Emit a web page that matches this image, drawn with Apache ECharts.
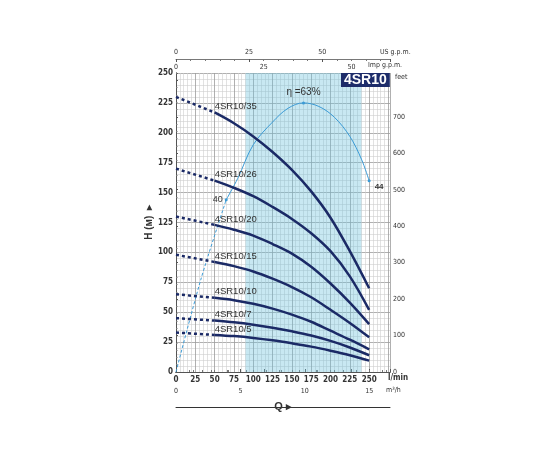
<!DOCTYPE html>
<html>
<head>
<meta charset="utf-8">
<script src="https://cdn.jsdelivr.net/npm/echarts@6/dist/echarts.min.js"></script>
<style>
  html, body { margin: 0; padding: 0; background: #fff; }
  #chart { width: 550px; height: 450px; }
</style>
</head>
<body>
<div id="chart"></div>
<script>
// pump curves 4SR10, H (m) against Q (l/min)
const flowLpm = [0, 50, 75, 100, 125, 150, 175, 200, 225, 250]
const pumpNames = ['4SR10/35', '4SR10/26', '4SR10/20', '4SR10/15', '4SR10/10', '4SR10/7', '4SR10/5']
const head35 = [230, 217, 208, 197, 184, 169, 151, 129, 101, 70]
const head26 = [170, 160, 154, 147, 138, 128, 116, 101, 80, 52]
const head20 = [130, 123, 119, 114, 107, 99, 88, 74, 58, 40]
const head15 = [98, 92, 88.5, 84, 78, 71, 62.5, 52, 41, 29]
const head10 = [65, 62, 60, 57, 53, 48, 42, 34.5, 27, 19]
const head7 = [45, 43, 41.5, 39.5, 37, 34, 30.5, 26, 20.5, 14]
const head5 = [33, 31, 30, 28.5, 26.5, 24, 21.2, 17.8, 14, 9.5]
const heads = [head35, head26, head20, head15, head10, head7, head5]

// efficiency curve (drawn on the H scale)
const effFlow = [0, 32, 65, 80, 100, 125, 145, 165, 185, 205, 225, 240, 250]
const effHead = [0, 77, 144, 162, 190, 209, 220.5, 225, 222, 213, 197, 178, 160]
const effMarkIdx = [2, 7, 12]
const effMarkText = ['40', 'η =63%', '44']

// recommended range (shaded)
const shadedRange = [90, 240]

// tick labels
const hTicks = [0, 25, 50, 75, 100, 125, 150, 175, 200, 225, 250]
const qTicks = [0, 25, 50, 75, 100, 125, 150, 175, 200, 225, 250]
const feetTicks = [0, 100, 200, 300, 400, 500, 600, 700]

const qMax = 277
const navy = '#1b2a66'
const effBlue = '#3b9bd6'
const narrow = '"Liberation Sans Narrow", "DejaVu Sans Condensed", sans-serif'
const tickFont = { fontSize: 8, fontWeight: 'bold', color: '#333', fontFamily: narrow }

let series = []
heads.forEach(function (h, i) {
  //dotted start 0 - 50
  series.push({
    type: 'line',
    data: [[flowLpm[0], h[0]], [flowLpm[1], h[1]]],
    symbol: 'none',
    lineStyle: { color: navy, width: 2.5, type: [3, 3] },
    z: 3
  })
  let solid = []
  for (let k = 1; k < flowLpm.length; k++) {
    if (k === 1) {
      solid.push({
        value: [flowLpm[k], h[k]],
        label: {
          show: true, formatter: pumpNames[i], position: 'top', align: 'left', distance: 1,
          color: '#333', fontSize: 9.5, fontFamily: 'Liberation Sans, sans-serif'
        }
      })
    } else {
      solid.push([flowLpm[k], h[k]])
    }
  }
  series.push({
    type: 'line',
    data: solid,
    smooth: 0.35,
    symbol: 'circle',
    symbolSize: 0,
    lineStyle: { color: navy, width: 2.5 },
    z: 3
  })
})

// efficiency: dashed to the first mark, then solid
let effDashed = []
let effSolid = []
effFlow.forEach(function (q, k) {
  if (k <= effMarkIdx[0]) effDashed.push([q, effHead[k]])
  if (k >= effMarkIdx[0]) {
    let m = effMarkIdx.indexOf(k)
    if (m >= 0) {
      let lab = { show: true, formatter: effMarkText[m], color: '#333', fontSize: 9, fontFamily: 'Liberation Sans, sans-serif' }
      if (m === 0) { lab.position = 'left'; lab.distance = 2 }
      if (m === 1) { lab.position = 'top'; lab.distance = 4; lab.fontSize = 10 }
      if (m === 2) { lab.position = 'right'; lab.offset = [-1, 6]; lab.fontWeight = 'bold'; lab.fontSize = 8 }
      effSolid.push({ value: [q, effHead[k]], symbolSize: 3, label: lab })
    } else {
      effSolid.push({ value: [q, effHead[k]], symbolSize: 0 })
    }
  }
})
series.push({
  type: 'line',
  data: effDashed,
  symbol: 'none',
  smooth: 0.3,
  lineStyle: { color: effBlue, width: 1, type: [3, 2] },
  z: 2
})
series.push({
  type: 'line',
  data: effSolid,
  symbol: 'circle',
  smooth: 0.35,
  itemStyle: { color: effBlue },
  lineStyle: { color: effBlue, width: 1 },
  z: 2,
  markArea: {
    silent: true,
    itemStyle: { color: 'rgba(110,195,222,0.38)' },
    data: [[{ xAxis: shadedRange[0] }, { xAxis: shadedRange[1] }]]
  }
})

function unitText(txt, x, y, bold) {
  return {
    type: 'text', left: x, top: y, z: 10,
    style: { text: txt, fill: '#333', fontSize: bold ? 8 : 7, fontWeight: bold ? 'bold' : 'normal', fontFamily: narrow }
  }
}

let option = {
  animation: false,
  backgroundColor: '#fff',
  title: {
    text: '4SR10',
    left: 341,
    top: 73,
    backgroundColor: '#1d2c6a',
    padding: [0, 3, 0, 3],
    textStyle: { color: '#fff', fontSize: 14, fontWeight: 'bold', lineHeight: 14, fontFamily: 'Liberation Sans, sans-serif' }
  },
  graphic: [
    unitText('l/min', 388, 374, true),
    unitText('m³/h', 386, 387, false),
    unitText('Imp g.p.m.', 368, 62, false),
    unitText('US g.p.m.', 380, 49, false),
    unitText('feet', 395, 74, false)
  ],
  grid: { left: 176, top: 73, width: 214, height: 299 },
  xAxis: [
    {
      // l/min
      type: 'value', min: 0, max: qMax, interval: 25,
      axisLine: { show: true, onZero: false, lineStyle: { color: '#555', width: 1 } },
      axisTick: { show: false },
      axisLabel: Object.assign({}, tickFont, { margin: 4, showMaxLabel: false,
        formatter: function (v) { return qTicks.indexOf(v) >= 0 ? v : '' } }),
      splitLine: { show: true, lineStyle: { color: '#9c9c9c', width: 0.8 } },
      minorTick: { show: false, splitNumber: 5 },
      minorSplitLine: { show: true, lineStyle: { color: '#cfcfcf', width: 0.6 } }
    },
    {
      // m3/h
      type: 'value', position: 'bottom', offset: 13, min: 0, max: qMax * 0.06, interval: 5,
      name: 'Q ▸', nameLocation: 'middle', nameGap: 16,
      nameTextStyle: { fontSize: 11, fontWeight: 'bold', color: '#333', fontFamily: 'Liberation Sans, sans-serif' },
      axisLine: { show: true, lineStyle: { color: '#555', width: 0.8 } },
      axisTick: { show: true, inside: true, length: 3, lineStyle: { color: '#555' } },
      minorTick: { show: true, splitNumber: 5, length: 2, lineStyle: { color: '#777' } },
      axisLabel: Object.assign({}, tickFont, { fontWeight: 'normal', fontSize: 7, margin: 3, showMaxLabel: false }),
      splitLine: { show: false }
    },
    {
      // Imp gpm, on the top border
      type: 'value', position: 'top', offset: 0, min: 0, max: qMax / 4.54609, interval: 25,
      axisLine: { show: true, lineStyle: { color: '#555', width: 1 } },
      axisTick: { show: true, length: 3, lineStyle: { color: '#555' } },
      minorTick: { show: true, splitNumber: 5, length: 2, lineStyle: { color: '#777' } },
      axisLabel: Object.assign({}, tickFont, { fontWeight: 'normal', fontSize: 7, margin: 2, showMaxLabel: false }),
      splitLine: { show: false }
    },
    {
      // US gpm
      type: 'value', position: 'top', offset: 14, min: 0, max: qMax / 3.78541, interval: 25,
      axisLine: { show: true, lineStyle: { color: '#555', width: 0.8 } },
      axisTick: { show: true, inside: true, length: 3, lineStyle: { color: '#555' } },
      minorTick: { show: true, splitNumber: 5, length: 2, lineStyle: { color: '#777' } },
      axisLabel: Object.assign({}, tickFont, { fontWeight: 'normal', fontSize: 7, margin: 3, showMaxLabel: false }),
      splitLine: { show: false }
    },
    {
      // plain rule under the chart
      type: 'value', position: 'bottom', offset: 35, min: 0, max: qMax,
      axisLine: { show: true, lineStyle: { color: '#333', width: 1 } },
      axisTick: { show: false },
      axisLabel: { show: false },
      splitLine: { show: false }
    }
  ],
  yAxis: [
    {
      type: 'value', min: 0, max: 250, interval: 25,
      name: 'H (м)  ▸', nameLocation: 'middle', nameGap: 18,
      nameTextStyle: { fontSize: 10, fontWeight: 'bold', color: '#333', fontFamily: 'Liberation Sans, sans-serif' },
      axisLine: { show: true, onZero: false, lineStyle: { color: '#555', width: 1 } },
      axisTick: { show: false },
      axisLabel: Object.assign({}, tickFont, { margin: 3,
        formatter: function (v) { return hTicks.indexOf(v) >= 0 ? v : '' } }),
      splitLine: { show: true, lineStyle: { color: '#9c9c9c', width: 0.8 } },
      minorTick: { show: false, splitNumber: 5 },
      minorSplitLine: { show: true, lineStyle: { color: '#cfcfcf', width: 0.6 } }
    },
    {
      // feet
      type: 'value', position: 'right', min: 0, max: 250 * 3.28084, interval: 100,
      axisLine: { show: true, lineStyle: { color: '#555', width: 1 } },
      axisTick: { show: true, length: 2, lineStyle: { color: '#555' } },
      minorTick: { show: true, splitNumber: 5, length: 1.5, lineStyle: { color: '#777' } },
      axisLabel: Object.assign({}, tickFont, { fontWeight: 'normal', fontSize: 7, margin: 3, showMaxLabel: false,
        formatter: function (v) { return feetTicks.indexOf(v) >= 0 ? v : '' } }),
      splitLine: { show: false }
    }
  ],
  series: series
}

echarts.init(document.getElementById('chart')).setOption(option)
</script>
</body>
</html>
